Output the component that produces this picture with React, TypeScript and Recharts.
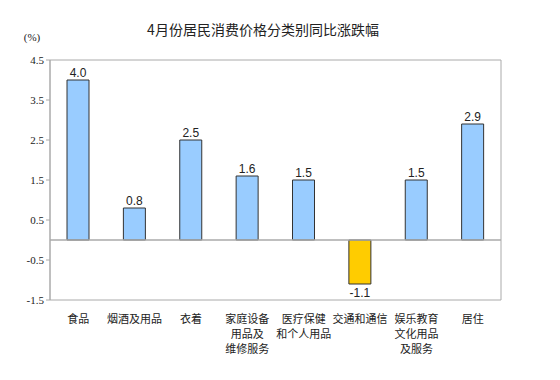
import React from "react";
import {
  BarChart,
  Bar,
  XAxis,
  YAxis,
  Cell,
  LabelList,
  ReferenceLine,
  ReferenceArea,
} from "recharts";

const categories = [
  "食品",
  "烟酒及用品",
  "衣着",
  "家庭设备\n用品及\n维修服务",
  "医疗保健\n和个人用品",
  "交通和通信",
  "娱乐教育\n文化用品\n及服务",
  "居住",
];

const values = [4.0, 0.8, 2.5, 1.6, 1.5, -1.1, 1.5, 2.9];

const yTicks = [-1.5, -0.5, 0.5, 1.5, 2.5, 3.5, 4.5];

const data = categories.map((name, i) => ({ name, value: values[i] }));

const CategoryTick = (props: any) => {
  const { x, y, payload } = props;
  const lines = String(payload.value).split("\n");
  return (
    <text
      x={x}
      y={y}
      textAnchor="middle"
      fontFamily="'Noto Sans CJK SC', sans-serif"
      fontSize={11}
      fill="#222"
    >
      {lines.map((line, i) => (
        <tspan key={i} x={x} dy={i === 0 ? 15 : 15}>
          {line}
        </tspan>
      ))}
    </text>
  );
};

const ValueLabel = (props: any) => {
  const { x, y, width, height, value } = props;
  const top = Math.min(y, y + height);
  const bottom = Math.max(y, y + height);
  const cx = x + width / 2;
  return (
    <text
      x={cx}
      y={value >= 0 ? top - 3 : bottom + 13}
      textAnchor="middle"
      fontFamily="'Liberation Sans', Arial, sans-serif"
      fontSize={12}
      fill="#222"
    >
      {value.toFixed(1)}
    </text>
  );
};

export default function App() {
  return (
    <div
      style={{
        position: "absolute",
        left: 0,
        top: 0,
        width: 560,
        height: 380,
        background: "#fff",
      }}
    >
      <svg
        width={560}
        height={380}
        style={{ position: "absolute", left: 0, top: 0, pointerEvents: "none" }}
      >
        <text
          x={263}
          y={35}
          textAnchor="middle"
          fontFamily="'Noto Sans CJK SC', sans-serif"
          fontSize={14}
          fill="#222"
        >
          4月份居民消费价格分类别同比涨跌幅
        </text>
        <text
          x={32}
          y={41}
          textAnchor="middle"
          fontFamily="'Liberation Serif', serif"
          fontSize={11}
          fill="#222"
        >
          (%)
        </text>
      </svg>
      <BarChart
        width={560}
        height={380}
        data={data}
        margin={{ top: 60, right: 59, left: 0, bottom: 0 }}
        style={{ position: "absolute", left: 0, top: 0 }}
      >
        <ReferenceArea
          y1={-1.5}
          y2={4.5}
          fill="none"
          stroke="#aaa"
          strokeWidth={1}
        />
        <XAxis
          dataKey="name"
          height={80}
          axisLine={false}
          tickLine={false}
          interval={0}
          tick={<CategoryTick />}
        />
        <YAxis
          width={50}
          domain={[-1.5, 4.5]}
          ticks={yTicks}
          axisLine={{ stroke: "#aaa" }}
          tickLine={{ stroke: "#aaa" }}
          tickSize={4}
          tickFormatter={(v: number) => v.toFixed(1)}
          tick={{
            fontFamily: "'Liberation Serif', serif",
            fontSize: 11,
            fill: "#222",
          }}
        />
        <ReferenceLine y={0} stroke="#aaa" strokeWidth={1.5} />
        <Bar
          dataKey="value"
          barSize={22}
          stroke="#333"
          strokeWidth={1}
          isAnimationActive={false}
        >
          {data.map((d, i) => (
            <Cell key={i} fill={d.value < 0 ? "#FFCC00" : "#99CCFF"} />
          ))}
          <LabelList dataKey="value" content={<ValueLabel />} />
        </Bar>
      </BarChart>
    </div>
  );
}
